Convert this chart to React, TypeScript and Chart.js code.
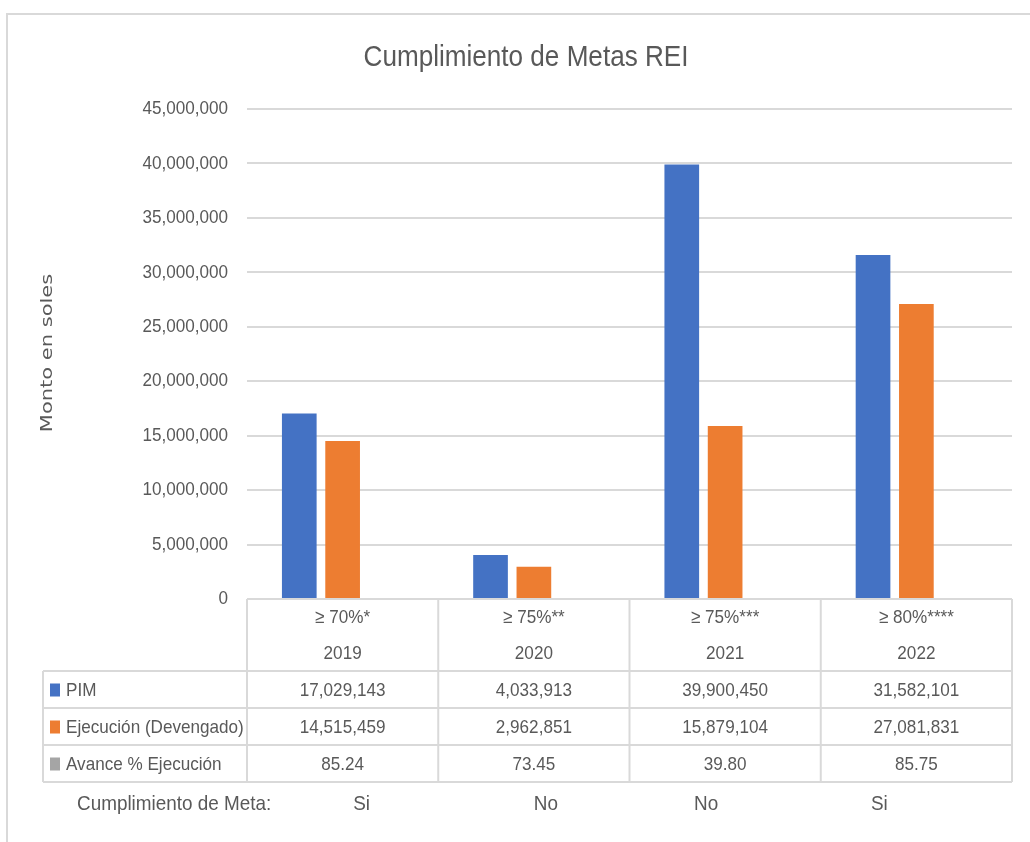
import React, { useEffect, useRef } from "react";
import { Chart, registerables } from "chart.js";

Chart.register(...registerables);

const years = ["2019", "2020", "2021", "2022"];
const metas = ["≥ 70%*", "≥ 75%**", "≥ 75%***", "≥ 80%****"];
const pim = [17029143, 4033913, 39900450, 31582101];
const ejecucion = [14515459, 2962851, 15879104, 27081831];
const avance = [85.24, 73.45, 39.8, 85.75];
const cumplimiento = ["Si", "No", "No", "Si"];
const seriesNames = ["PIM", "Ejecución (Devengado)", "Avance % Ejecución"];
const yTicks = { min: 0, max: 45000000, step: 5000000 };

const TITLE = "Cumplimiento de Metas REI";
const Y_TITLE = "Monto en soles";
const META_LABEL = "Cumplimiento de Meta:";

const COLORS = ["#4472C4", "#ED7D31", "#A5A5A5"];
const TEXT = "#595959";
const GRID = "#D9D9D9";
const FONT = "'Liberation Sans', Arial, sans-serif";
const SQ = 0.9;

const fmt = (v: number) => v.toLocaleString("en-US");

function txt(
  ctx: CanvasRenderingContext2D,
  s: string,
  x: number,
  y: number,
  size: number,
  align: CanvasTextAlign = "center",
  sq = SQ
) {
  ctx.save();
  ctx.font = `${size}px ${FONT}`;
  ctx.textAlign = align;
  ctx.textBaseline = "middle";
  ctx.translate(x, y);
  ctx.scale(sq, 1);
  ctx.fillText(s, 0, 0);
  ctx.restore();
}

const tablePlugin = {
  id: "tablePlugin",
  afterDraw(chart: any) {
    const ctx = chart.ctx as CanvasRenderingContext2D;
    const area = chart.chartArea;
    const x = chart.scales.x;
    const y = chart.scales.y;
    const n = years.length;
    const colW = (area.right - area.left) / n;
    const b = area.bottom;
    const tableLeft = 43;
    ctx.save();

    // frame
    ctx.strokeStyle = GRID;
    ctx.lineWidth = 2;
    ctx.beginPath();
    ctx.moveTo(7, 842);
    ctx.lineTo(7, 14);
    ctx.lineTo(1030, 14);
    ctx.stroke();

    ctx.fillStyle = TEXT;
    // title
    txt(ctx, TITLE, 526, 58, 29);

    // y tick labels
    for (const t of y.ticks) {
      txt(ctx, fmt(t.value), area.left - 19, y.getPixelForValue(t.value), 19, "right");
    }

    // y title
    ctx.save();
    ctx.translate(48, 353);
    ctx.rotate(-Math.PI / 2);
    ctx.scale(1, 0.75);
    ctx.font = "21px 'DejaVu Sans', sans-serif";
    ctx.textAlign = "center";
    ctx.textBaseline = "middle";
    ctx.fillText(Y_TITLE, 0, 0);
    ctx.restore();

    // table lines
    const rowsY = [b + 72, b + 109, b + 146, b + 183];
    ctx.strokeStyle = GRID;
    ctx.lineWidth = 2;
    ctx.beginPath();
    for (let i = 0; i <= n; i++) {
      const lx = area.left + i * colW;
      ctx.moveTo(lx, b);
      ctx.lineTo(lx, rowsY[3]);
    }
    ctx.moveTo(tableLeft, rowsY[0]);
    ctx.lineTo(tableLeft, rowsY[3]);
    for (const ry of rowsY) {
      ctx.moveTo(tableLeft, ry);
      ctx.lineTo(area.right, ry);
    }
    ctx.stroke();

    ctx.fillStyle = TEXT;
    const rowVals = [pim.map(fmt), ejecucion.map(fmt), avance.map((v) => v.toFixed(2))];
    for (let i = 0; i < n; i++) {
      const cx = x.getPixelForValue(i);
      txt(ctx, metas[i], cx, b + 19, 19);
      txt(ctx, years[i], cx, b + 55, 19);
      for (let r = 0; r < 3; r++) {
        txt(ctx, rowVals[r][i], cx, (rowsY[r] + rowsY[r + 1]) / 2 + 1, 19);
      }
    }
    // row labels with legend keys
    for (let r = 0; r < 3; r++) {
      const cy = (rowsY[r] + rowsY[r + 1]) / 2;
      ctx.fillStyle = COLORS[r];
      ctx.fillRect(50, cy - 6, 10, 13);
      ctx.fillStyle = TEXT;
      txt(ctx, seriesNames[r], 66, cy + 1, 19, "left");
    }

    // cumplimiento row
    const metaY = b + 205;
    txt(ctx, META_LABEL, 77, metaY, 21, "left");
    const shifts = [19, 12, -19, -37];
    for (let i = 0; i < n; i++) {
      txt(ctx, cumplimiento[i], x.getPixelForValue(i) + shifts[i], metaY, 21);
    }
    ctx.restore();
  },
};

export default function App() {
  const ref = useRef<HTMLCanvasElement>(null);
  useEffect(() => {
    if (!ref.current) return;
    const chart = new Chart(ref.current, {
      type: "bar",
      data: {
        labels: years,
        datasets: [
          { label: seriesNames[0], data: pim, backgroundColor: COLORS[0] },
          { label: seriesNames[1], data: ejecucion, backgroundColor: COLORS[1] },
          {
            label: seriesNames[2],
            data: avance,
            backgroundColor: COLORS[2],
            clip: { left: 0, top: 0, right: 0, bottom: -2 },
          },
        ],
      },
      options: {
        responsive: false,
        animation: false,
        devicePixelRatio: 1,
        layout: { padding: { left: 0, right: 18, top: 109, bottom: 243 } },
        datasets: { bar: { barPercentage: 0.8, categoryPercentage: 0.68, inflateAmount: 0 } },
        plugins: {
          legend: { display: false },
          title: { display: false },
          tooltip: { enabled: false },
        },
        scales: {
          x: { display: false },
          y: {
            min: yTicks.min,
            max: yTicks.max,
            afterFit: (s: any) => {
              s.width = 247;
            },
            border: { display: false },
            grid: { color: GRID, lineWidth: 2, drawTicks: false },
            ticks: {
              stepSize: yTicks.step,
              display: false,
            },
          },
        },
      },
      plugins: [tablePlugin],
    } as any);
    return () => chart.destroy();
  }, []);
  return (
    <div style={{ position: "absolute", left: 0, top: 0, width: 1030, height: 842, background: "#fff" }}>
      <canvas ref={ref} width={1030} height={842} style={{ display: "block" }} />
    </div>
  );
}
